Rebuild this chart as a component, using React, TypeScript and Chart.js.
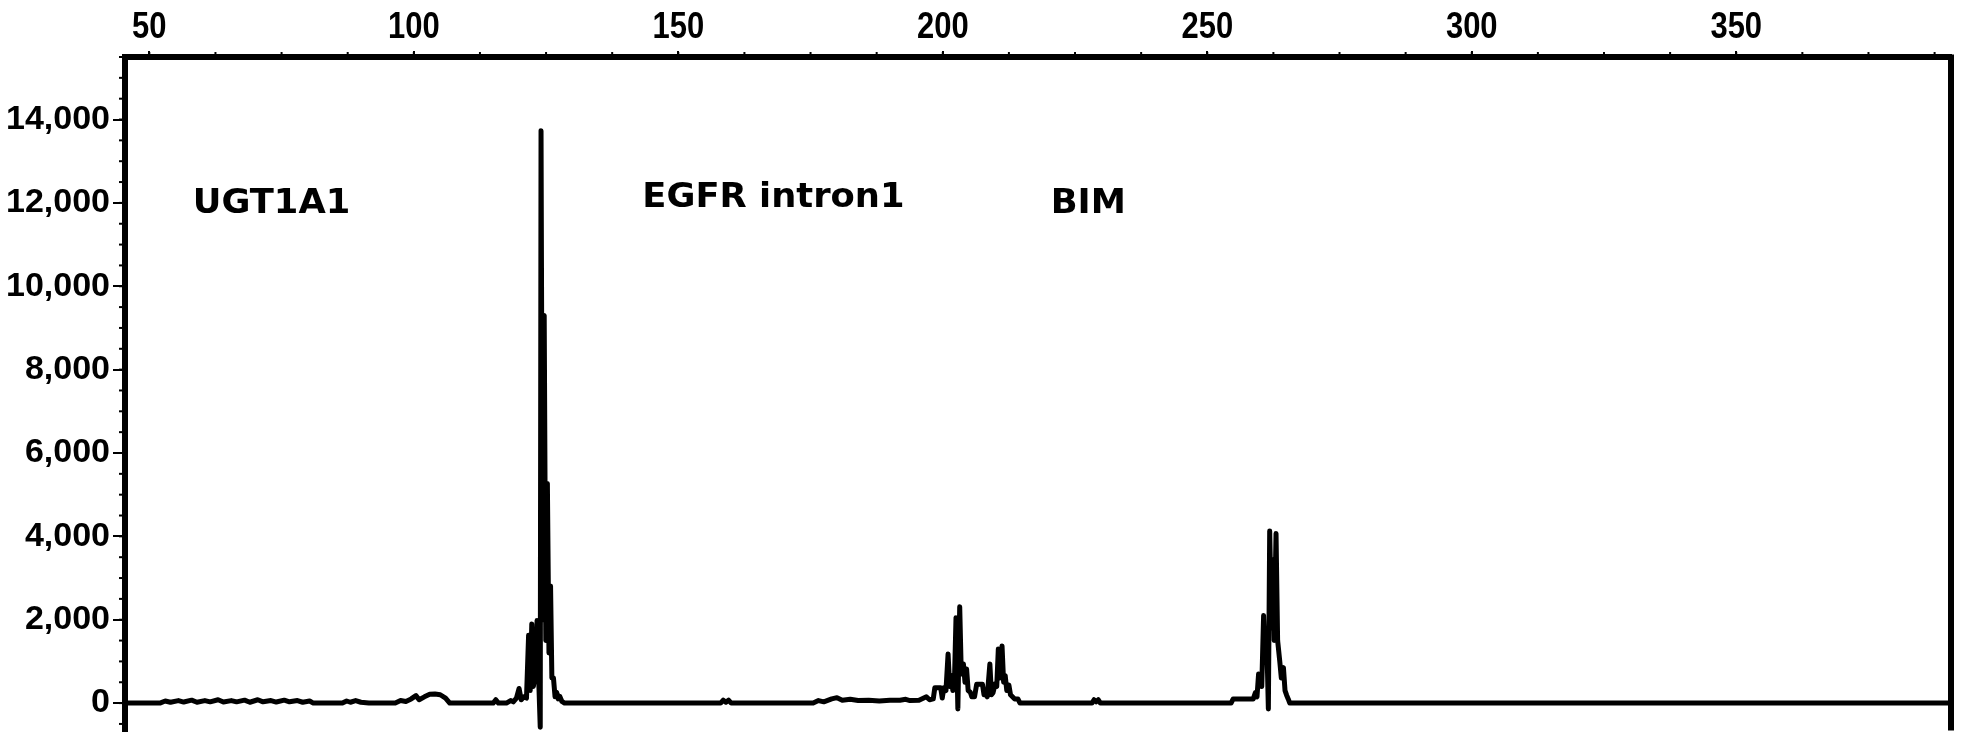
import { useEffect, useRef } from "react";
import { Chart, registerables } from "chart.js";

Chart.register(...registerables);

// Fragment size (bp) and signal (RFU) of the electropherogram trace
const traceSize = [
  45.4, 52, 53, 54, 55.5, 56.5, 58, 59, 60.5, 61.5, 63, 64, 65.5, 66.5, 68, 69, 70.5, 71.5, 73, 74,
  75.5, 76.5, 78, 79, 80.3, 81, 86.5, 87.3, 88, 89, 90, 91.5, 96.5, 97.5, 98.5, 99.5, 100.4, 101, 102, 103,
  104, 105, 106, 106.8, 115, 115.5, 116, 117.5, 118.3, 118.8, 119.4, 119.9, 120.3, 120.8, 121.3, 121.7, 122.0, 122.3, 122.6, 123.0,
  123.3, 123.6, 123.9, 124.05, 124.35, 124.65, 124.95, 125.25, 125.55, 125.85, 126.1, 126.4, 126.7, 127.0, 127.3, 127.6, 128.0, 128.5,
  158, 158.5, 159, 159.5, 160, 175.5, 176.5, 177.5, 179, 180, 181, 182.5, 184, 186, 188, 190, 191.9, 193, 193.8, 195.5,
  196.9, 197.5, 198.2, 198.5, 199.6, 199.9, 200.2, 200.6, 201.0, 201.3, 201.6, 201.9, 202.2, 202.5, 202.85, 203.2, 203.5, 203.9, 204.2, 204.5,
  204.8, 205.2, 205.5, 206.0, 206.4, 207.5, 207.8, 208.0, 208.4, 208.9, 209.2, 209.5, 209.9, 210.2, 210.5, 210.8, 211.2, 211.5, 211.8, 212.1,
  212.5, 212.8, 213.6, 214.2, 214.6, 228.2, 228.6, 229.0, 229.4, 229.8, 254.5, 254.9, 258.7, 259.1, 259.4, 259.7, 260.1, 260.3, 260.65, 260.95,
  261.25, 261.55, 261.8, 262.15, 262.45, 262.65, 263.0, 263.3, 263.7, 264.0, 264.4, 264.7, 265.0, 265.3, 265.6, 390.6,
];
const traceRFU = [
  0, 0, 50, 20, 60, 25, 70, 20, 60, 30, 80, 25, 60, 30, 70, 20, 80, 30, 60, 25,
  70, 30, 60, 20, 50, 0, 0, 50, 20, 60, 20, 0, 0, 60, 40, 100, 180, 80, 150, 210,
  220, 200, 120, 0, 0, 80, 0, 0, 60, 30, 120, 350, 80, 150, 120, 1630, 300, 1900, 400, 700,
  1980, 600, -580, 13730, 2000, 9300, 1500, 5270, 1200, 2810, 600, 600, 150, 260, 100, 160, 40, 0,
  0, 70, 20, 70, 0, 0, 60, 30, 100, 130, 70, 90, 60, 70, 50, 70, 70, 90, 60, 70,
  150, 80, 100, 370, 370, 120, 370, 300, 1180, 400, 660, 300, 500, 2050, -140, 2310, 700, 940, 500, 820,
  300, 260, 150, 150, 450, 450, 200, 250, 150, 940, 200, 250, 460, 400, 1300, 600, 1370, 500, 660, 300,
  430, 200, 100, 100, 0, 0, 80, 30, 80, 0, 0, 100, 100, 250, 150, 700, 600, 400, 2100, 1000,
  1500, -140, 4130, 1800, 3440, 1500, 4070, 1500, 1010, 600, 850, 300, 190, 100, 0, 0,
];

const xTickValues = [50, 100, 150, 200, 250, 300, 350];
const yTickValues = [0, 2000, 4000, 6000, 8000, 10000, 12000, 14000];

const annLabels = ["UGT1A1", "EGFR intron1", "BIM"];
const annSize = [58.2, 143.2, 220.4];
const annRFU = [11760, 11900, 11760];

const X_MIN = 45.4;
const X_MAX = 390.6;
const Y_MIN = -660;
const Y_MAX = 15500;

const frameAndLabels = {
  id: "frameAndLabels",
  afterDraw(chart: any) {
    const { ctx, chartArea, scales } = chart;
    const xs = scales.x;
    const ys = scales.y;
    ctx.save();
    ctx.strokeStyle = "#000";
    // right border
    ctx.lineWidth = 6;
    ctx.beginPath();
    ctx.moveTo(chartArea.right, chartArea.top - 2.5);
    ctx.lineTo(chartArea.right, chartArea.bottom);
    ctx.stroke();
    // minor ticks
    ctx.lineWidth = 2;
    for (let v = 50; v <= X_MAX; v += 12.5) {
      const px = xs.getPixelForValue(v);
      ctx.beginPath();
      ctx.moveTo(px, chartArea.top - 5);
      ctx.lineTo(px, chartArea.top);
      ctx.stroke();
    }
    for (let v = -500; v <= Y_MAX; v += 500) {
      const py = ys.getPixelForValue(v);
      ctx.beginPath();
      ctx.moveTo(chartArea.left - 6, py);
      ctx.lineTo(chartArea.left, py);
      ctx.stroke();
    }
    ctx.fillStyle = "#000";
    // top axis labels (condensed bold), placed on the x scale's own ticks
    ctx.font = 'bold 36px "Liberation Sans", Arial, sans-serif';
    ctx.textAlign = "center";
    ctx.textBaseline = "alphabetic";
    xs.ticks.forEach((t: any) => {
      const px = xs.getPixelForValue(t.value);
      ctx.save();
      ctx.translate(px, 38);
      ctx.scale(0.86, 1);
      ctx.fillText(String(t.value), 0, 0);
      ctx.restore();
    });
    // annotations
    ctx.font = 'bold 33px "DejaVu Sans", sans-serif';
    ctx.textAlign = "left";
    annLabels.forEach((t, i) => {
      const px = xs.getPixelForValue(annSize[i]);
      const py = ys.getPixelForValue(annRFU[i]);
      ctx.save();
      ctx.translate(px, py);
      ctx.scale(1.07, 1);
      ctx.fillText(t, 0, 0);
      ctx.restore();
    });
    ctx.restore();
  },
};

export default function App() {
  const ref = useRef<HTMLCanvasElement | null>(null);
  useEffect(() => {
    if (!ref.current) return;
    const chart = new Chart(ref.current, {
      type: "line",
      data: {
        datasets: [
          {
            data: traceSize.map((x, i) => ({ x, y: traceRFU[i] })),
            borderColor: "#000",
            borderWidth: 5,
            borderJoinStyle: "round",
            borderCapStyle: "round",
            pointRadius: 0,
            tension: 0,
            fill: false,
          },
        ],
      },
      options: {
        animation: false,
        responsive: false,
        layout: { padding: { left: 0, top: 0, right: 18, bottom: 13 } },
        plugins: { legend: { display: false }, tooltip: { enabled: false } },
        scales: {
          x: {
            type: "linear",
            position: "top",
            min: X_MIN,
            max: X_MAX,
            afterBuildTicks: (s: any) => {
              s.ticks = xTickValues.map((value) => ({ value }));
            },
            afterFit: (s: any) => {
              s.height = 57;
            },
            ticks: { display: false, autoSkip: false },
            grid: { drawOnChartArea: false, drawTicks: true, tickLength: 6, color: "#000", lineWidth: 2 },
            border: { display: true, color: "#000", width: 6 },
          },
          y: {
            type: "linear",
            position: "left",
            min: Y_MIN,
            max: Y_MAX,
            afterBuildTicks: (s: any) => {
              s.ticks = yTickValues.map((value) => ({ value }));
            },
            afterFit: (s: any) => {
              s.width = 125;
            },
            ticks: {
              color: "#000",
              font: { family: '"Liberation Sans", Arial, sans-serif', size: 34, weight: "bold" },
              padding: 3,
              autoSkip: false,
              callback: (v: any) => Number(v).toLocaleString("en-US"),
            },
            grid: { drawOnChartArea: false, drawTicks: true, tickLength: 12, color: "#000", lineWidth: 2 },
            border: { display: true, color: "#000", width: 6 },
          },
        },
      },
      plugins: [frameAndLabels],
    });
    return () => chart.destroy();
  }, []);
  return (
    <div style={{ position: "absolute", left: 0, top: 0, width: 1969, height: 754, background: "#fff" }}>
      <canvas ref={ref} width={1969} height={754} />
    </div>
  );
}
